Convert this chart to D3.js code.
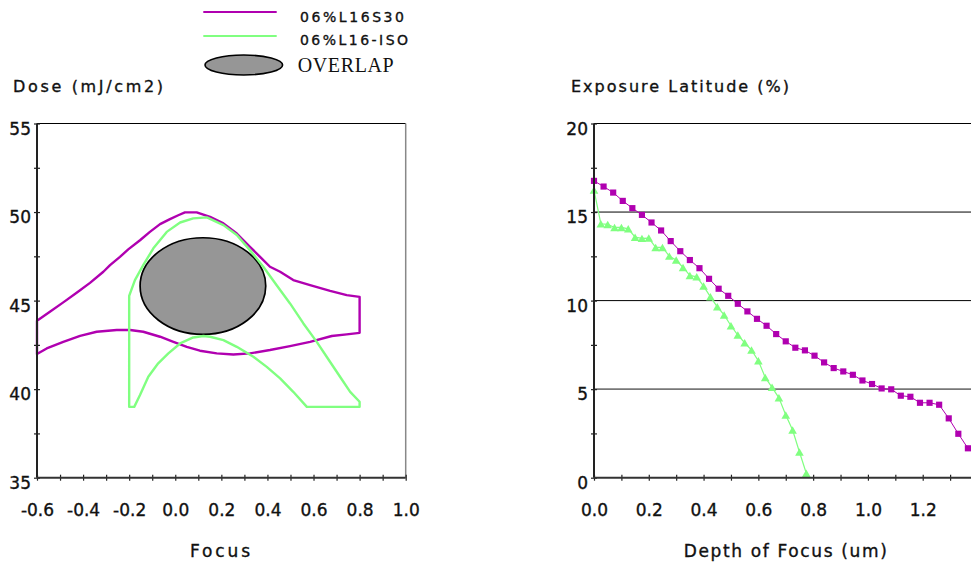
<!DOCTYPE html>
<html><head><meta charset="utf-8">
<script src="https://cdn.jsdelivr.net/npm/d3@7"></script>
<style>html,body{margin:0;padding:0;background:#fff;} svg{display:block}</style>
</head><body>
<svg id="chart" width="971" height="565"></svg>
<script>
// ---------- data ----------
const legendLabels = ["06%L16S30", "06%L16-ISO", "OVERLAP"];
const leftTitles = ["Dose (mJ/cm2)", "Focus"];
const rightTitles = ["Exposure Latitude (%)", "Depth of Focus (um)"];

// process window contours (Focus, Dose), closed loops
const s30Focus = [-0.60,-0.544,-0.486,-0.428,-0.370,-0.312,-0.283,-0.240,-0.204,-0.153,-0.110,-0.066,-0.023,0.013,0.042,0.093,0.151,0.209,0.267,0.324,0.368,0.411,0.455,0.512,0.585,0.672,0.744,0.80,
                  0.80,0.744,0.679,0.585,0.498,0.411,0.324,0.252,0.180,0.107,0.050,-0.008,-0.066,-0.139,-0.196,-0.254,-0.341,-0.413,-0.486,-0.558,-0.60];
const s30Dose  = [43.86,44.37,44.90,45.44,46.00,46.63,47.00,47.47,47.89,48.41,48.88,49.32,49.60,49.82,49.98,49.98,49.73,49.36,48.79,48.04,47.47,46.91,46.63,46.16,45.87,45.55,45.31,45.21,
                  43.18,43.09,43.00,42.67,42.43,42.21,42.02,41.96,42.02,42.17,42.39,42.67,42.96,43.24,43.34,43.34,43.24,43.01,42.67,42.30,41.98];
const isoFocus = [-0.20,-0.20,-0.175,-0.139,-0.095,-0.037,0.021,0.078,0.137,0.209,0.267,0.324,0.382,0.440,0.498,0.556,0.614,0.657,0.715,0.759,0.80,0.80,
                  0.571,0.512,0.455,0.397,0.339,0.267,0.209,0.151,0.122,0.078,0.021,-0.030,-0.074,-0.117,-0.153,-0.178];
const isoDose  = [39.0,45.27,46.16,47.00,47.95,48.88,49.41,49.64,49.70,49.26,48.70,47.85,46.91,45.87,44.84,43.71,42.67,41.83,40.70,39.85,39.29,39.0,
                  39.0,39.85,40.61,41.26,41.83,42.39,42.77,42.96,43.00,42.92,42.58,42.02,41.46,40.70,39.67,39.0];
const overlapCenter = [0.12, 45.82];   // focus, dose
const overlapRadius = [0.2726, 2.73];  // focus, dose

// exposure latitude vs depth of focus
const dofS30 = [0,0.035,0.07,0.105,0.14,0.175,0.21,0.245,0.28,0.315,0.35,0.385,0.42,0.455,0.49,0.525,0.56,0.595,0.63,0.665,
                0.7,0.735,0.77,0.805,0.84,0.875,0.91,0.945,0.98,1.015,1.05,1.085,1.12,1.155,1.19,1.225,1.26,1.295,1.33,1.365];
const latS30 = [16.76,16.44,16.10,15.63,15.22,14.84,14.41,13.96,13.36,12.79,12.29,11.83,11.23,10.67,10.27,9.82,9.39,8.97,8.58,8.11,
                7.70,7.34,7.19,6.89,6.51,6.19,6.00,5.81,5.49,5.29,5.04,4.99,4.63,4.57,4.23,4.23,4.12,3.35,2.48,1.66];
const dofISO = [0,0.025,0.05,0.075,0.1,0.125,0.15,0.175,0.2,0.225,0.25,0.275,0.3,0.325,0.35,0.375,
                0.4,0.425,0.45,0.475,0.5,0.525,0.55,0.575,0.6,0.625,0.65,0.675,0.7,0.725,0.75,0.775];
const latISO = [16.24,14.34,14.30,14.13,14.13,14.05,13.58,13.51,13.53,13.00,13.00,12.51,12.29,11.87,11.42,11.34,
                10.82,10.21,9.65,9.19,8.58,8.05,7.62,7.21,6.60,5.66,5.10,4.51,3.54,2.69,1.45,0.25];

// ticks
const focusTicks = [-0.6,-0.5,-0.4,-0.3,-0.2,-0.1,0,0.1,0.2,0.3,0.4,0.5,0.6,0.7,0.8,0.9,1.0];
const focusLabels = ["-0.6","","-0.4","","-0.2","","0.0","","0.2","","0.4","","0.6","","0.8","","1.0"];
const doseTicks = [35,37.5,40,42.5,45,47.5,50,52.5,55];
const doseLabels = ["35","","40","","45","","50","","55"];
const dofTicks = [0,0.1,0.2,0.3,0.4,0.5,0.6,0.7,0.8,0.9,1.0,1.1,1.2,1.3];
const dofLabels = ["0.0","","0.2","","0.4","","0.6","","0.8","","1.0","","1.2",""];
const latTicks = [0,2.5,5,7.5,10,12.5,15,17.5,20];
const latLabels = ["0","","5","","10","","15","","20"];
const latGrid = [5,10,15];

// ---------- drawing ----------
const MAG = "#B000B0", GRN = "#80FF80";
const svg = d3.select("#chart");
const SANS = "DejaVu Sans, Verdana, sans-serif";
const INK = "#111";

const xL = d3.scaleLinear([-0.6, 1.0], [37, 405.7]);
const yL = d3.scaleLinear([35, 55], [477.7, 123.5]);
const xR = d3.scaleLinear([0, 1.4], [594, 977.5]);
const yR = d3.scaleLinear([0, 20], [477.7, 123.5]);

function heavy(sel) { return sel.attr("fill", INK).attr("stroke", INK).attr("stroke-width", 0.35); }

function styleAxis(g, horizontal) {
  g.attr("font-family", SANS).attr("font-size", 17);
  g.select(".domain").remove();
  if (horizontal) {
    g.selectAll(".tick line").attr("y1", -3).attr("y2", 3).attr("stroke", "#222").attr("stroke-width", 1.2);
    heavy(g.selectAll(".tick text").attr("y", 38.5).attr("dy", null));
  } else {
    g.selectAll(".tick line").attr("x1", -3).attr("x2", 3).attr("stroke", "#222").attr("stroke-width", 1.2);
    heavy(g.selectAll(".tick text").attr("x", -6).attr("y", 10.5).attr("dy", null));
  }
}

// ===== Left chart =====
const L = svg.append("g");
L.append("line").attr("x1", xL(-0.6)).attr("x2", xL(1.0)).attr("y1", yL(55)).attr("y2", yL(55)).attr("stroke", "#000").attr("stroke-width", 1);
L.append("line").attr("x1", xL(1.0)).attr("x2", xL(1.0)).attr("y1", yL(55)).attr("y2", yL(35)).attr("stroke", "#888").attr("stroke-width", 1.5);

L.append("ellipse")
  .attr("cx", xL(overlapCenter[0])).attr("cy", yL(overlapCenter[1]))
  .attr("rx", xL(overlapCenter[0] + overlapRadius[0]) - xL(overlapCenter[0]))
  .attr("ry", yL(overlapCenter[1]) - yL(overlapCenter[1] + overlapRadius[1]))
  .attr("fill", "#969696").attr("stroke", "#000").attr("stroke-width", 1.7);

const loop = d3.line().x(d => xL(d[0])).y(d => yL(d[1])).curve(d3.curveLinearClosed);
L.append("path").attr("d", loop(d3.zip(s30Focus, s30Dose))).attr("fill", "none").attr("stroke", MAG).attr("stroke-width", 2.4).attr("stroke-linejoin", "round");
L.append("path").attr("d", loop(d3.zip(isoFocus, isoDose))).attr("fill", "none").attr("stroke", GRN).attr("stroke-width", 2.4).attr("stroke-linejoin", "round");

const gxL = L.append("g").attr("transform", `translate(0,${yL(35)})`)
  .call(d3.axisBottom(xL).tickValues(focusTicks).tickFormat((d, i) => focusLabels[i]).tickSize(3).tickSizeOuter(0));
styleAxis(gxL, true);
const gyL = L.append("g").attr("transform", `translate(${xL(-0.6)},0)`)
  .call(d3.axisLeft(yL).tickValues(doseTicks).tickFormat((d, i) => doseLabels[i]).tickSize(3).tickSizeOuter(0));
styleAxis(gyL, false);
L.append("line").attr("x1", xL(-0.6)).attr("x2", xL(-0.6)).attr("y1", yL(55)).attr("y2", yL(35)).attr("stroke", "#222").attr("stroke-width", 2);
L.append("line").attr("x1", xL(-0.6)).attr("x2", xL(1.0)).attr("y1", yL(35)).attr("y2", yL(35)).attr("stroke", "#333").attr("stroke-width", 2);

heavy(L.append("text").text(leftTitles[0]).attr("x", 13).attr("y", 92).attr("font-family", SANS).attr("font-size", 16)
  .attr("textLength", 150).attr("lengthAdjust", "spacing"));
heavy(L.append("text").text(leftTitles[1]).attr("x", 220).attr("y", 557).attr("text-anchor", "middle").attr("font-family", SANS).attr("font-size", 17)
  .attr("textLength", 60).attr("lengthAdjust", "spacing"));

// ===== Right chart =====
const R = svg.append("g");
R.append("line").attr("x1", xR(0)).attr("x2", 971).attr("y1", yR(20)).attr("y2", yR(20)).attr("stroke", "#000").attr("stroke-width", 1);
R.selectAll("line.grid").data(latGrid).join("line").attr("class", "grid")
  .attr("x1", xR(0)).attr("x2", 971).attr("y1", d => yR(d)).attr("y2", d => yR(d))
  .attr("stroke", d => d === 5 ? "#777" : "#000").attr("stroke-width", d => d === 5 ? 1.6 : 1);

const ln = d3.line().x(d => xR(d[0])).y(d => yR(d[1]));
const s30Pts = d3.zip(dofS30, latS30), isoPts = d3.zip(dofISO, latISO);
R.append("path").attr("d", ln(s30Pts)).attr("fill", "none").attr("stroke", MAG).attr("stroke-width", 1);
R.append("path").attr("d", ln(isoPts)).attr("fill", "none").attr("stroke", GRN).attr("stroke-width", 1.2);
R.selectAll("path.sq").data(s30Pts).join("path").attr("class", "sq")
  .attr("d", d3.symbol(d3.symbolSquare, 38))
  .attr("transform", d => `translate(${xR(d[0])},${yR(d[1])})`).attr("fill", MAG);
R.selectAll("path.tri").data(isoPts).join("path").attr("class", "tri")
  .attr("d", d3.symbol(d3.symbolTriangle, 32))
  .attr("transform", d => `translate(${xR(d[0])},${yR(d[1]) + 1.2})`).attr("fill", GRN);

const gxR = R.append("g").attr("transform", `translate(0,${yR(0)})`)
  .call(d3.axisBottom(xR).tickValues(dofTicks).tickFormat((d, i) => dofLabels[i]).tickSize(3).tickSizeOuter(0));
styleAxis(gxR, true);
const gyR = R.append("g").attr("transform", `translate(${xR(0)},0)`)
  .call(d3.axisLeft(yR).tickValues(latTicks).tickFormat((d, i) => latLabels[i]).tickSize(3).tickSizeOuter(0));
styleAxis(gyR, false);
R.append("line").attr("x1", xR(0)).attr("x2", xR(0)).attr("y1", yR(20)).attr("y2", yR(0)).attr("stroke", "#222").attr("stroke-width", 2);
R.append("line").attr("x1", xR(0)).attr("x2", 971).attr("y1", yR(0)).attr("y2", yR(0)).attr("stroke", "#333").attr("stroke-width", 2);

heavy(R.append("text").text(rightTitles[0]).attr("x", 571).attr("y", 92).attr("font-family", SANS).attr("font-size", 16)
  .attr("textLength", 218).attr("lengthAdjust", "spacing"));
heavy(R.append("text").text(rightTitles[1]).attr("x", 785.3).attr("y", 557).attr("text-anchor", "middle").attr("font-family", SANS).attr("font-size", 17)
  .attr("textLength", 203).attr("lengthAdjust", "spacing"));

// ===== Legend =====
const G = svg.append("g");
G.append("line").attr("x1", 203.3).attr("x2", 276.7).attr("y1", 12).attr("y2", 12).attr("stroke", MAG).attr("stroke-width", 2);
G.append("line").attr("x1", 203.3).attr("x2", 276.7).attr("y1", 36).attr("y2", 36).attr("stroke", GRN).attr("stroke-width", 2);
G.append("ellipse").attr("cx", 243.8).attr("cy", 65).attr("rx", 38.8).attr("ry", 10)
  .attr("fill", "#969696").attr("stroke", "#000").attr("stroke-width", 1.6);
heavy(G.append("text").text(legendLabels[0]).attr("x", 300).attr("y", 22).attr("font-family", SANS).attr("font-size", 14)
  .attr("textLength", 104).attr("lengthAdjust", "spacing"));
heavy(G.append("text").text(legendLabels[1]).attr("x", 300).attr("y", 45).attr("font-family", SANS).attr("font-size", 14)
  .attr("textLength", 108).attr("lengthAdjust", "spacing"));
G.append("text").text(legendLabels[2]).attr("x", 297.7).attr("y", 72).attr("font-family", "Liberation Serif, Times New Roman, serif").attr("font-size", 20)
  .attr("textLength", 96).attr("lengthAdjust", "spacing").attr("fill", INK);
</script>
</body></html>
